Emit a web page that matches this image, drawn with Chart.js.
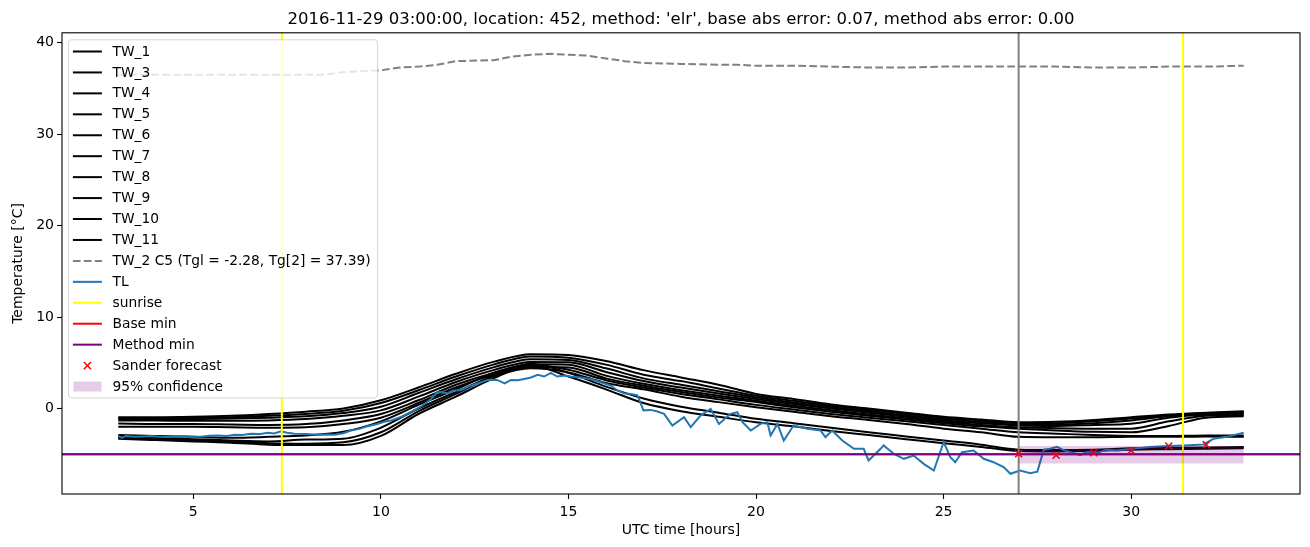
<!DOCTYPE html>
<html>
<head>
<meta charset="utf-8">
<script src="https://cdn.jsdelivr.net/npm/chart.js@4.4.1/dist/chart.umd.min.js"></script>
<style>
  html, body { margin: 0; padding: 0; background: #fff; }
  #wrap { width: 1310px; height: 547px; }
</style>
</head>
<body>
<div id="wrap"><canvas id="chart" width="1310" height="547"></canvas></div>
<script>
const titleText = "2016-11-29 03:00:00, location: 452, method: 'elr', base abs error: 0.07, method abs error: 0.00";

// hourly TW sensor curves
const twHours = [3,4,5,6,7,8,9,10,11,12,13,14,15,16,17,18,19,20,21,22,23,24,25,26,27,28,29,30,31,32,33];
const twNames = ["TW_1","TW_3","TW_4","TW_5","TW_6","TW_7","TW_8","TW_9","TW_10","TW_11"];
const tw1  = [-0.95,-0.95,-0.9,-0.8,-0.6,-0.35,0.0,0.9,2.3,3.8,5.1,5.95,5.85,5.2,4.2,3.4,2.6,1.6,1.05,0.45,0.0,-0.45,-0.9,-1.2,-1.5,-1.45,-1.25,-0.95,-0.65,-0.45,-0.3];
const tw3  = [-1.05,-1.05,-1.0,-0.95,-0.8,-0.6,-0.25,0.6,2.0,3.5,4.8,5.7,5.55,4.8,3.7,3.0,2.2,1.4,0.85,0.3,-0.15,-0.6,-1.0,-1.3,-1.6,-1.6,-1.4,-1.1,-0.75,-0.5,-0.4];
const tw4  = [-1.15,-1.15,-1.15,-1.1,-1.0,-0.85,-0.5,0.2,1.7,3.2,4.5,5.4,5.3,4.4,3.3,2.6,1.9,1.2,0.65,0.15,-0.3,-0.75,-1.15,-1.45,-1.75,-1.75,-1.6,-1.3,-0.85,-0.55,-0.45];
const tw5  = [-1.3,-1.3,-1.35,-1.35,-1.3,-1.15,-0.8,-0.2,1.3,2.9,4.2,5.1,5.05,4.0,3.0,2.3,1.65,1.05,0.5,0.0,-0.45,-0.9,-1.3,-1.6,-1.85,-1.9,-1.8,-1.67,-1.0,-0.65,-0.55];
const tw6  = [-1.65,-1.7,-1.7,-1.75,-1.8,-1.7,-1.3,-0.6,0.9,2.6,3.9,4.85,4.8,3.6,2.7,2.0,1.4,0.85,0.3,-0.2,-0.65,-1.05,-1.45,-1.8,-2.05,-2.15,-2.2,-2.2,-1.4,-0.8,-0.7];
const tw7  = [-2.0,-2.0,-2.0,-2.05,-2.1,-2.05,-1.7,-1.0,0.6,2.3,3.7,4.55,4.5,3.3,2.5,1.8,1.2,0.7,0.15,-0.35,-0.8,-1.2,-1.6,-1.95,-2.2,-2.4,-2.55,-2.6,-1.9,-1.0,-0.85];
const tw8  = [-2.9,-3.0,-3.1,-3.2,-3.1,-2.95,-2.55,-1.4,0.4,2.1,3.9,4.8,4.25,3.1,2.3,1.6,1.0,0.4,-0.1,-0.6,-1.0,-1.4,-1.8,-2.2,-2.6,-2.75,-2.9,-3.0,-3.0,-2.95,-2.95];
const tw9  = [-3.05,-3.2,-3.35,-3.5,-3.6,-3.4,-3.3,-2.1,0.0,1.8,3.5,4.4,3.95,2.8,2.1,1.3,0.7,0.15,-0.35,-0.85,-1.25,-1.7,-2.2,-2.6,-3.1,-3.15,-3.15,-3.1,-3.1,-3.05,-3.1];
const tw10 = [-3.2,-3.35,-3.5,-3.6,-3.8,-3.85,-3.7,-2.6,-0.3,1.6,3.6,4.9,3.9,2.4,1.1,0.2,-0.45,-1.13,-1.6,-2.1,-2.6,-3.05,-3.5,-3.95,-4.5,-4.55,-4.5,-4.35,-4.3,-4.25,-4.2];
const tw11 = [-3.3,-3.45,-3.6,-3.75,-3.95,-4.0,-4.0,-3.0,-0.6,1.3,3.3,4.7,3.5,2.1,0.6,-0.3,-0.9,-1.5,-1.95,-2.45,-2.9,-3.35,-3.8,-4.2,-4.65,-4.7,-4.65,-4.5,-4.45,-4.4,-4.35];
const twSeries = [tw1, tw3, tw4, tw5, tw6, tw7, tw8, tw9, tw10, tw11];

// TW_2 (dashed grey)
const tw2Label = "TW_2 C5 (Tgl = -2.28, Tg[2] = 37.39)";
const tw2Hours  = [3,4,5,6,7,8,8.5,9,10,10.5,11,11.5,12,13,13.5,14,14.5,15,15.5,16,16.5,17,18,19,19.5,20,21,22,23,24,25,26,27,28,29,30,31,32,33];
const tw2Values = [36.5,36.5,36.5,36.5,36.5,36.5,36.5,36.8,37.0,37.3,37.4,37.6,38.0,38.1,38.5,38.7,38.8,38.7,38.6,38.3,38.0,37.8,37.7,37.6,37.6,37.5,37.5,37.4,37.3,37.3,37.4,37.4,37.4,37.4,37.3,37.3,37.4,37.4,37.5];

// TL (air temperature, blue)
const tlHours = [3.0,3.1,3.2,3.44,3.65,3.88,4.1,4.33,4.55,4.77,5.0,5.2,5.43,5.66,5.9,6.1,6.3,6.54,6.75,6.99,7.15,7.34,7.5,7.7,8.0,8.3,8.55,8.76,9.0,9.2,9.45,9.65,9.9,10.09,10.27,10.55,10.8,11.1,11.34,11.5,11.65,11.78,11.95,12.13,12.28,12.4,12.67,12.85,13.1,13.3,13.47,13.65,13.82,14.0,14.18,14.35,14.53,14.7,14.9,15.06,15.33,15.6,15.86,16.13,16.3,16.48,16.66,16.84,17.0,17.19,17.35,17.55,17.77,18.08,18.26,18.52,18.79,19.01,19.32,19.5,19.64,19.86,20.12,20.3,20.39,20.57,20.74,21.0,21.37,21.72,21.85,22.03,22.3,22.61,22.87,23.0,23.32,23.4,23.67,23.94,24.2,24.47,24.74,25.0,25.18,25.31,25.49,25.8,26.07,26.33,26.6,26.78,27.04,27.31,27.5,27.67,27.84,28.02,28.2,28.46,28.64,28.82,29.08,29.35,29.62,30.02,30.5,30.94,31.4,31.93,32.2,32.54,33.0];
const tlValues = [-3.0,-3.2,-3.0,-3.1,-3.05,-3.0,-3.1,-3.12,-3.0,-3.02,-3.1,-3.08,-2.97,-2.95,-3.0,-2.87,-2.9,-2.76,-2.8,-2.65,-2.72,-2.5,-2.65,-2.76,-2.8,-2.87,-2.85,-2.87,-2.7,-2.4,-2.2,-1.93,-1.7,-1.45,-1.3,-0.9,-0.4,0.3,1.05,1.8,1.75,1.67,1.96,2.0,2.3,2.5,2.87,3.13,3.13,2.76,3.13,3.1,3.24,3.4,3.7,3.5,3.9,3.5,3.6,3.5,3.4,3.2,2.87,2.5,2.0,1.67,1.6,1.45,-0.2,-0.15,-0.3,-0.58,-1.86,-0.95,-2.04,-0.77,-0.04,-1.68,-0.58,-0.4,-1.49,-2.4,-1.68,-1.49,-2.95,-1.68,-3.5,-1.86,-2.22,-2.4,-3.13,-2.4,-3.5,-4.41,-4.41,-5.68,-4.41,-4.04,-4.95,-5.5,-5.14,-6.05,-6.78,-3.68,-5.32,-5.87,-4.78,-4.59,-5.5,-5.87,-6.41,-7.14,-6.78,-7.07,-6.9,-4.5,-4.4,-4.2,-4.55,-4.87,-5.1,-4.75,-4.85,-4.5,-4.6,-4.4,-4.2,-4.1,-4.04,-3.93,-3.3,-3.1,-2.65];

const sunriseHours = [7.36, 31.38];
const forecastHour = 27.0;
const baseMin = -5.0;
const methodMin = -5.0;

const sanderHours  = [27, 28, 29, 30, 31, 32];
const sanderValues = [-4.95, -5.1, -4.83, -4.6, -4.1, -3.95];

const confHours = [27, 33];
const confUpper = [-4.1, -4.1];
const confLower = [-6.0, -6.0];

const xTicks = [5, 10, 15, 20, 25, 30];
const yTicks = [0, 10, 20, 30, 40];

const BLUE = "#1f77b4";
const CONF = "rgba(128,0,128,0.2)";

function pts(xs, ys) {
  return xs.map((x, i) => ({ x: x, y: ys[i] }));
}

Chart.defaults.font.family = "'DejaVu Sans', sans-serif";
Chart.defaults.font.size = 14;
Chart.defaults.color = "#000";

const datasets = [];
twSeries.forEach((vals, i) => {
  datasets.push({
    label: twNames[i],
    data: pts(twHours, vals),
    borderColor: "#000",
    borderWidth: 2,
    pointRadius: 0,
    cubicInterpolationMode: "monotone",
    fill: false,
  });
});
datasets.push({
  label: tw2Label,
  data: pts(tw2Hours, tw2Values),
  borderColor: "gray",
  borderWidth: 2,
  borderDash: [7.7, 3.3],
  pointRadius: 0,
  fill: false,
});
datasets.push({
  label: "TL",
  data: pts(tlHours, tlValues),
  borderColor: BLUE,
  borderWidth: 2,
  pointRadius: 0,
  tension: 0,
  fill: false,
});
datasets.push({
  label: "Sander forecast",
  data: pts(sanderHours, sanderValues),
  showLine: false,
  pointStyle: "crossRot",
  pointRadius: 5,
  pointBorderColor: "red",
  pointBorderWidth: 1.5,
  borderColor: "red",
});
datasets.push({
  label: "conf low",
  data: pts(confHours, confLower),
  borderWidth: 0,
  pointRadius: 0,
  fill: false,
});
datasets.push({
  label: "95% confidence",
  data: pts(confHours, confUpper),
  borderWidth: 0,
  pointRadius: 0,
  backgroundColor: CONF,
  fill: "-1",
});
// first dataset is drawn first (bottom), like matplotlib
datasets.forEach((d, i) => { d.order = datasets.length - i; });

const legendItems = twNames.map(n => ({ label: n, kind: "line", color: "#000" })).concat([
  { label: tw2Label, kind: "line", color: "gray", dash: [7.7, 3.3] },
  { label: "TL", kind: "line", color: BLUE },
  { label: "sunrise", kind: "line", color: "yellow" },
  { label: "Base min", kind: "line", color: "red" },
  { label: "Method min", kind: "line", color: "purple" },
  { label: "Sander forecast", kind: "marker", color: "red" },
  { label: "95% confidence", kind: "patch", color: CONF },
]);

// axvline / axhline, drawn right after the TL curve
const refLines = {
  id: "refLines",
  afterDatasetDraw(chart, args) {
    if (chart.data.datasets[args.index].label !== "TL") return;
    const { ctx, chartArea: a, scales: { x, y } } = chart;
    ctx.save();
    ctx.lineWidth = 2;
    const vline = (v, c) => {
      const px = x.getPixelForValue(v);
      ctx.strokeStyle = c;
      ctx.beginPath(); ctx.moveTo(px, a.top); ctx.lineTo(px, a.bottom); ctx.stroke();
    };
    const hline = (v, c) => {
      const py = y.getPixelForValue(v);
      ctx.strokeStyle = c;
      ctx.beginPath(); ctx.moveTo(a.left, py); ctx.lineTo(a.right, py); ctx.stroke();
    };
    vline(forecastHour, "gray");
    sunriseHours.forEach(h => vline(h, "yellow"));
    hline(baseMin, "red");
    hline(methodMin, "purple");
    ctx.restore();
  },
};

const frameAndLegend = {
  id: "frameAndLegend",
  afterDraw(chart) {
    const { ctx, chartArea: a } = chart;
    ctx.save();
    ctx.strokeStyle = "#000";
    ctx.lineWidth = 1.1;
    ctx.strokeRect(a.left, a.top, a.right - a.left, a.bottom - a.top);

    ctx.font = "13.8px 'DejaVu Sans', sans-serif";
    const maxW = Math.max(...legendItems.map(it => ctx.measureText(it.label).width));
    const bx = a.left + 6.5, by = a.top + 7;
    const bw = 44 + maxW + 7, rowH = 20.94;
    const bh = 11.7 * 2 + rowH * (legendItems.length - 1) - 0.3;
    ctx.beginPath();
    ctx.roundRect(bx, by, bw, bh, 3);
    ctx.fillStyle = "rgba(255,255,255,0.8)";
    ctx.fill();
    ctx.strokeStyle = "rgba(204,204,204,0.8)";
    ctx.lineWidth = 1;
    ctx.stroke();

    legendItems.forEach((it, i) => {
      const cy = by + 11.7 + i * rowH;
      const hx0 = bx + 4.4, hx1 = bx + 33.4;
      if (it.kind === "line") {
        ctx.strokeStyle = it.color;
        ctx.lineWidth = 2;
        ctx.setLineDash(it.dash || []);
        ctx.beginPath(); ctx.moveTo(hx0, cy); ctx.lineTo(hx1, cy); ctx.stroke();
        ctx.setLineDash([]);
      } else if (it.kind === "marker") {
        const cx = (hx0 + hx1) / 2, r = 3.6;
        ctx.strokeStyle = it.color;
        ctx.lineWidth = 1.5;
        ctx.beginPath();
        ctx.moveTo(cx - r, cy - r); ctx.lineTo(cx + r, cy + r);
        ctx.moveTo(cx - r, cy + r); ctx.lineTo(cx + r, cy - r);
        ctx.stroke();
      } else {
        ctx.fillStyle = it.color;
        ctx.fillRect(hx0 + 0.6, cy - 5, hx1 - hx0 - 1, 10);
      }
      ctx.fillStyle = "#000";
      ctx.textBaseline = "middle";
      ctx.fillText(it.label, bx + 44, cy + 0.5);
    });
    ctx.restore();
  },
};

new Chart(document.getElementById("chart").getContext("2d"), {
  type: "line",
  data: { datasets: datasets },
  options: {
    responsive: false,
    animation: false,
    layout: { padding: { left: 0, right: 10, top: 0, bottom: 0 } },
    plugins: {
      legend: { display: false },
      tooltip: { enabled: false },
      title: {
        display: true,
        text: titleText,
        fullSize: false,
        font: { size: 16.5, weight: "normal" },
        color: "#000",
        padding: { top: 10, bottom: 3 },
      },
    },
    scales: {
      x: {
        type: "linear",
        min: 1.5,
        max: 34.5,
        afterFit: s => { s.height = 53; },
        afterBuildTicks: s => { s.ticks = xTicks.map(v => ({ value: v })); },
        grid: { drawOnChartArea: false, tickLength: 5, tickColor: "#000", tickWidth: 1.1 },
        border: { display: false },
        ticks: { padding: 5, maxRotation: 0, autoSkip: false, color: "#000" },
        title: { display: true, text: "UTC time [hours]", padding: { top: 0, bottom: 8 }, color: "#000" },
      },
      y: {
        type: "linear",
        min: -9.35,
        max: 41.1,
        afterFit: s => { s.width = 62; },
        afterBuildTicks: s => { s.ticks = yTicks.map(v => ({ value: v })); },
        grid: { drawOnChartArea: false, tickLength: 5, tickColor: "#000", tickWidth: 1.1 },
        border: { display: false },
        ticks: { padding: 3, color: "#000" },
        title: { display: true, text: "Temperature [°C]", padding: { top: 10, bottom: 0 }, color: "#000" },
      },
    },
  },
  plugins: [refLines, frameAndLegend],
});
</script>
</body>
</html>
